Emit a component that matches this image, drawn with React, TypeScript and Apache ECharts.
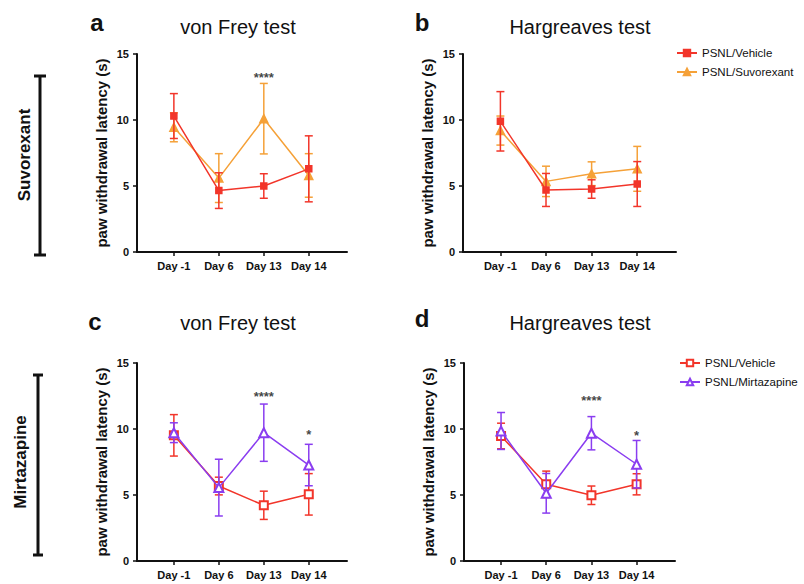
import React, { useEffect, useRef } from "react";
import * as echarts from "echarts";

const FONT = "'Liberation Sans', Arial, Helvetica, sans-serif";

const CATEGORIES = ["Day -1", "Day 6", "Day 13", "Day 14"];
const X_POS = [0, 1, 2, 3];
const Y_TICKS_MAX = 15;
const Y_INTERVAL = 5;

// Panel a: von Frey, Suvorexant
const aVehMean = [10.3, 4.65, 5.0, 6.3];
const aVehErr = [1.7, 1.35, 0.93, 2.5];
const aSuvMean = [9.45, 5.6, 10.1, 5.8];
const aSuvErr = [1.1, 1.85, 2.67, 1.65];
// Panel b: Hargreaves, Suvorexant
const bVehMean = [9.9, 4.7, 4.77, 5.15];
const bVehErr = [2.25, 1.25, 0.7, 1.7];
const bSuvMean = [9.2, 5.35, 5.93, 6.3];
const bSuvErr = [1.1, 1.15, 0.9, 1.7];
// Panel c: von Frey, Mirtazapine
const cVehMean = [9.52, 5.68, 4.22, 5.05];
const cVehErr = [1.57, 0.67, 1.07, 1.57];
const cMirMean = [9.72, 5.56, 9.72, 7.27];
const cMirErr = [0.75, 2.15, 2.17, 1.57];
// Panel d: Hargreaves, Mirtazapine
const dVehMean = [9.47, 5.81, 4.98, 5.81];
const dVehErr = [0.97, 1.0, 0.7, 0.8];
const dMirMean = [9.85, 5.13, 9.68, 7.33];
const dMirErr = [1.4, 1.5, 1.26, 1.8];

// significance marks: [x position, y value, text]
const sigA: [number, number, string][] = [[2, 13.25, "****"]];
const sigC: [number, number, string][] = [[2, 12.5, "****"], [3, 9.55, "*"]];
const sigD: [number, number, string][] = [[2, 12.15, "****"], [3, 9.5, "*"]];

const RED = "#f2352a";
const ORANGE = "#f5a138";
const PURPLE = "#8a3df0";

const PANEL_TITLES = ["von Frey test", "Hargreaves test", "von Frey test", "Hargreaves test"];
const PANEL_LETTERS = ["a", "b", "c", "d"];
const Y_NAME = "paw withdrawal latency (s)";

const GRIDS = [
  { left: 137, top: 54, width: 210, height: 198 },
  { left: 463, top: 54, width: 213, height: 198 },
  { left: 137, top: 363, width: 210, height: 198 },
  { left: 464, top: 363, width: 211, height: 198 },
];

function errRender(params: any, api: any) {
  const x = api.value(0);
  const lo = api.value(1);
  const hi = api.value(2);
  const top = api.coord([x, hi]);
  const bot = api.coord([x, lo]);
  const hw = 4;
  const style = { stroke: api.visual("color"), lineWidth: 1.5, fill: "none" };
  return {
    type: "group",
    children: [
      { type: "line", shape: { x1: top[0], y1: top[1], x2: bot[0], y2: bot[1] }, style },
      { type: "line", shape: { x1: top[0] - hw, y1: top[1], x2: top[0] + hw, y2: top[1] }, style },
      { type: "line", shape: { x1: bot[0] - hw, y1: bot[1], x2: bot[0] + hw, y2: bot[1] }, style },
    ],
  };
}

function makeSeries(
  idx: number,
  name: string,
  mean: number[],
  err: number[],
  color: string,
  symbol: string,
  symbolSize: number,
  z: number
) {
  return [
    {
      type: "custom",
      xAxisIndex: idx,
      yAxisIndex: idx,
      renderItem: errRender,
      itemStyle: { color },
      data: mean.map((m, j) => [X_POS[j], m - err[j], m + err[j]]),
      z: z,
      silent: true,
    },
    {
      type: "line",
      name,
      xAxisIndex: idx,
      yAxisIndex: idx,
      data: mean.map((m, j) => [X_POS[j], m]),
      symbol,
      symbolSize,
      showAllSymbol: true,
      lineStyle: { color, width: 1.5 },
      itemStyle: { color, borderColor: color, borderWidth: 1.5 },
      z: z + 1,
    },
  ];
}

function makeSig(idx: number, marks: [number, number, string][]) {
  return {
    type: "scatter",
    xAxisIndex: idx,
    yAxisIndex: idx,
    symbolSize: 1,
    itemStyle: { color: "rgba(0,0,0,0)" },
    data: marks.map((m) => ({ value: [m[0], m[1]], name: m[2] })),
    label: {
      show: true,
      position: "inside",
      formatter: "{b}",
      fontFamily: FONT,
      fontWeight: "bold",
      fontSize: 13,
      color: "#111",
    },
    silent: true,
    z: 10,
  };
}

export default function App() {
  const ref = useRef<HTMLDivElement>(null);
  useEffect(() => {
    if (!ref.current) return;
    const chart = echarts.init(ref.current, undefined, { renderer: "svg" });

    const xAxes = GRIDS.map((_, i) => ({
      gridIndex: i,
      type: "value",
      min: -0.82,
      max: 3.85,
      axisLine: { show: true, onZero: false, lineStyle: { color: "#111", width: 2 } },
      axisTick: { show: true, customValues: X_POS, length: 4, lineStyle: { color: "#111", width: 1.5 } },
      axisLabel: {
        customValues: X_POS,
        formatter: (v: number) => CATEGORIES[Math.round(v)] ?? "",
        fontFamily: FONT,
        fontWeight: "bold",
        fontSize: 11,
        color: "#111",
        margin: 8,
      },
      splitLine: { show: false },
    }));

    const yAxes = GRIDS.map((_, i) => ({
      gridIndex: i,
      type: "value",
      min: 0,
      max: Y_TICKS_MAX,
      interval: Y_INTERVAL,
      name: Y_NAME,
      nameLocation: "middle",
      nameGap: 28,
      nameTextStyle: { fontFamily: FONT, fontWeight: "bold", fontSize: 15, color: "#111" },
      axisLine: { show: true, onZero: false, lineStyle: { color: "#111", width: 2 } },
      axisTick: { show: true, length: 4, lineStyle: { color: "#111", width: 1.5 } },
      axisLabel: { fontFamily: FONT, fontWeight: "bold", fontSize: 11, color: "#111", margin: 8 },
      splitLine: { show: false },
    }));

    const series: any[] = [
      ...makeSeries(0, "PSNL/Suvorexant", aSuvMean, aSuvErr, ORANGE, "triangle", 8, 2),
      ...makeSeries(0, "PSNL/Vehicle", aVehMean, aVehErr, RED, "rect", 6, 4),
      makeSig(0, sigA),
      ...makeSeries(1, "PSNL/Suvorexant", bSuvMean, bSuvErr, ORANGE, "triangle", 8, 2),
      ...makeSeries(1, "PSNL/Vehicle", bVehMean, bVehErr, RED, "rect", 6, 4),
      ...makeSeries(2, "PSNL/Vehicle ", cVehMean, cVehErr, RED, "emptyRect", 8, 2),
      ...makeSeries(2, "PSNL/Mirtazapine", cMirMean, cMirErr, PURPLE, "emptyTriangle", 9, 4),
      makeSig(2, sigC),
      ...makeSeries(3, "PSNL/Vehicle ", dVehMean, dVehErr, RED, "emptyRect", 8, 2),
      ...makeSeries(3, "PSNL/Mirtazapine", dMirMean, dMirErr, PURPLE, "emptyTriangle", 9, 4),
      makeSig(3, sigD),
    ];

    const titlePos = [
      [238, 27],
      [580, 27],
      [238, 323],
      [580, 323],
    ];
    const letterPos = [
      [97, 22],
      [422, 22],
      [95, 321],
      [422, 318],
    ];

    const graphics: any[] = [];
    PANEL_TITLES.forEach((t, i) => {
      graphics.push({
        type: "text",
        x: titlePos[i][0],
        y: titlePos[i][1],
        style: {
          text: t,
          fontFamily: FONT,
          fontSize: 20,
          fill: "#111",
          align: "center",
          verticalAlign: "middle",
        },
      });
      graphics.push({
        type: "text",
        x: letterPos[i][0],
        y: letterPos[i][1],
        style: {
          text: PANEL_LETTERS[i],
          fontFamily: FONT,
          fontSize: 24,
          fontWeight: "bold",
          fill: "#111",
          align: "center",
          verticalAlign: "middle",
        },
      });
    });

    const sideLabels = [
      { text: "Suvorexant", x: 24, y: 155, bx: 40, y1: 76, y2: 255, cap: 6 },
      { text: "Mirtazapine", x: 20, y: 462, bx: 38, y1: 375, y2: 555, cap: 5 },
    ];
    sideLabels.forEach((s) => {
      graphics.push({
        type: "text",
        x: s.x,
        y: s.y,
        rotation: Math.PI / 2,
        style: {
          text: s.text,
          fontFamily: FONT,
          fontSize: 17,
          fontWeight: "bold",
          fill: "#111",
          align: "center",
          verticalAlign: "middle",
        },
      });
      const ls = { stroke: "#111", lineWidth: 3 };
      graphics.push({ type: "line", shape: { x1: s.bx, y1: s.y1, x2: s.bx, y2: s.y2 }, style: ls });
      graphics.push({ type: "line", shape: { x1: s.bx - s.cap, y1: s.y1, x2: s.bx + s.cap, y2: s.y1 }, style: ls });
      graphics.push({ type: "line", shape: { x1: s.bx - s.cap, y1: s.y2, x2: s.bx + s.cap, y2: s.y2 }, style: ls });
    });

    const legendText = { fontFamily: FONT, fontSize: 11.5, color: "#111" };
    chart.setOption({
      animation: false,
      backgroundColor: "#ffffff",
      grid: GRIDS.map((g) => ({ ...g, containLabel: false })),
      xAxis: xAxes,
      yAxis: yAxes,
      legend: [
        {
          data: ["PSNL/Vehicle", "PSNL/Suvorexant"],
          orient: "vertical",
          left: 671,
          top: 42,
          itemWidth: 20,
          itemHeight: 8,
          itemGap: 7,
          textStyle: legendText,
          selectedMode: false,
        },
        {
          data: ["PSNL/Vehicle ", "PSNL/Mirtazapine"],
          formatter: (n: string) => n.trim(),
          orient: "vertical",
          left: 674,
          top: 352,
          itemWidth: 20,
          itemHeight: 8,
          itemGap: 7,
          textStyle: legendText,
          selectedMode: false,
        },
      ],
      graphic: graphics,
      series,
    });
    return () => chart.dispose();
  }, []);
  return (
    <div
      ref={ref}
      style={{ position: "fixed", left: 0, top: 0, width: 804, height: 584, background: "#fff" }}
    />
  );
}
